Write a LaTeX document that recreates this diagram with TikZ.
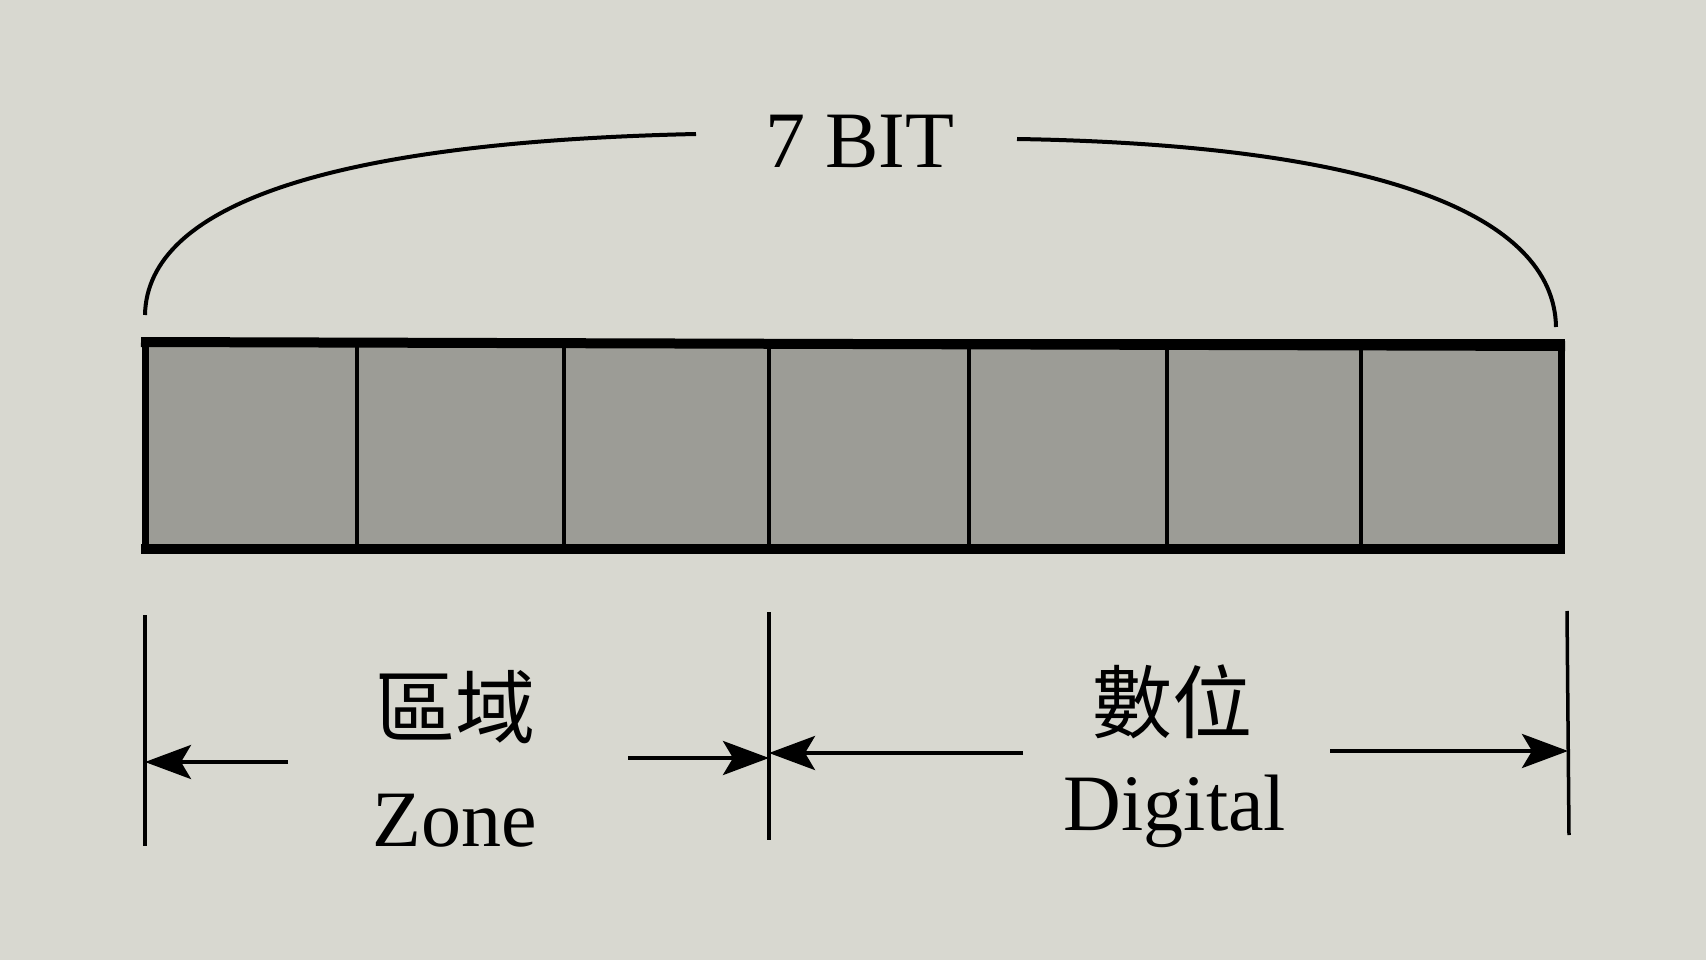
\documentclass[tikz,border=0pt]{standalone}
\usepackage{fontspec}
\setmainfont{Liberation Serif}
\newfontfamily\cjk{Noto Sans CJK TC}
\usetikzlibrary{arrows.meta}

\definecolor{paper}{RGB}{216,216,208}
\definecolor{cellgray}{RGB}{156,156,150}

\tikzset{
  label/.style={inner sep=0pt, font=\fontsize{80}{90}\selectfont},
  tick/.style={line width=3.5pt},
  dimarrow/.style={line width=4pt, ->}
}

\begin{document}
\begin{tikzpicture}[x=1pt, y=-1pt, >={Stealth[length=46pt, width=34pt, inset=10pt]}]

\fill[paper] (0,0) rectangle (1706,960);

% the 7 bit cells
\foreach \a/\b in {145/357, 357/564, 564/769, 769/969, 969/1167, 1167/1361, 1361/1561}
  \draw[fill=cellgray, line width=4pt] (\a,342) rectangle (\b,548);
\draw[line width=7pt] (145,342) rectangle (1561,548);
\draw[line width=10pt] (141,342)--(1565,346);
\draw[line width=10pt] (141,549)--(1565,549);

% brace over the word
\node[label] (bits) at (860,141) {7 BIT};
\coordinate (arcL) at (145,315);
\coordinate (arcR) at (1556,327);
\coordinate (gapL) at (696,134);
\coordinate (gapR) at (1017,139);
\draw[line width=4pt] (arcL) .. controls (147,205) and (330,142) .. (gapL);
\draw[line width=4pt] (gapR) .. controls (1380,145) and (1554,215) .. (arcR);

% dimension ticks
\coordinate (tA1) at (145,615);  \coordinate (tA2) at (145,846);
\coordinate (tB1) at (769,612);  \coordinate (tB2) at (769,840);
\coordinate (tC1) at (1567,611); \coordinate (tC2) at (1569,835);
\draw[tick] (tA1)--(tA2);
\draw[tick] (tB1)--(tB2);
\draw[tick] (tC1)--(tC2);

% zone part
\node[label] (zonezh) at (455,707) {\cjk 區域};
\node[label] (zone) at (455,821) {Zone};
\coordinate (zA) at (288,762); \coordinate (zAe) at (145,762);
\coordinate (zB) at (628,758); \coordinate (zBe) at (769,758);
\draw[dimarrow] (zA) -- (zAe);
\draw[dimarrow] (zB) -- (zBe);

% digital part
\node[label] (digzh) at (1172,702) {\cjk 數位};
\node[label] (dig) at (1175,811) {Digital};
\coordinate (dA) at (1023,753); \coordinate (dAe) at (769,753);
\coordinate (dB) at (1330,751); \coordinate (dBe) at (1568,751);
\draw[dimarrow] (dA) -- (dAe);
\draw[dimarrow] (dB) -- (dBe);

\end{tikzpicture}
\end{document}
